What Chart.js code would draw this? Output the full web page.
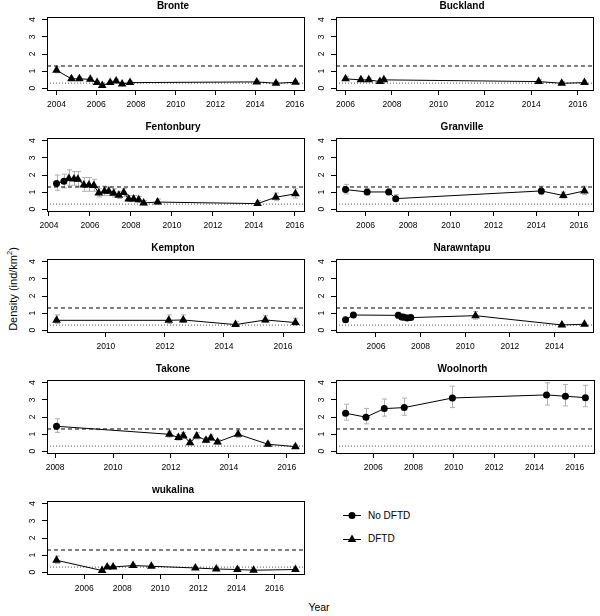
<!DOCTYPE html>
<html>
<head>
<meta charset="utf-8">
<script src="https://cdn.jsdelivr.net/npm/chart.js@4.4.1/dist/chart.umd.min.js"></script>
<style>
  body { margin: 0; background: #fff; }
  #fig { position: relative; width: 600px; height: 616px; font-family: 'Liberation Sans', Arial, sans-serif; color: #000; }
  #fig canvas { position: absolute; }
  .ylab { position: absolute; left: 12px; top: 289px; transform: translate(-50%, -50%) rotate(-90deg); font-size: 11px; white-space: nowrap; }
  .ylab sup { font-size: 7.5px; }
  .xlab { position: absolute; left: 319px; top: 607px; transform: translate(-50%, -50%); font-size: 10.5px; }
  .leg { position: absolute; left: 342px; font-size: 10px; white-space: nowrap; }
  .leg svg { vertical-align: middle; margin-right: 6px; }
  .leg span { vertical-align: middle; }
</style>
</head>
<body>
<div id="fig">
  <div class="ylab">Density (ind/km<sup>2</sup>)</div>
  <div class="xlab">Year</div>
  <div class="leg" style="top:509px"><svg width="20" height="12"><line x1="1" y1="6.5" x2="19" y2="6.5" stroke="#000" stroke-width="1"/><circle cx="10" cy="6.5" r="3.5" fill="#000"/></svg><span>No DFTD</span></div>
  <div class="leg" style="top:532px"><svg width="20" height="12"><line x1="1" y1="7.5" x2="19" y2="7.5" stroke="#000" stroke-width="1"/><path d="M10 2.5 L14.3 10 L5.7 10 Z" fill="#000"/></svg><span>DFTD</span></div>
</div>
<script>
// reference densities (dashed / dotted) and axis ticks
const refLines = [1.3, 0.3];
const densityTicks = [0, 1, 2, 3, 4];
const yearTicks = [2004, 2006, 2008, 2010, 2012, 2014, 2016];

// per-site surveys: year, density, error bar low/high, 1 = DFTD present
const bronteYear = [2004.0, 2004.75, 2005.15, 2005.7, 2006.04, 2006.3, 2006.7, 2007.0, 2007.3, 2007.7, 2014.08, 2015.05, 2016.03];
const bronteDens = [1.05, 0.55, 0.55, 0.52, 0.33, 0.16, 0.33, 0.43, 0.25, 0.33, 0.37, 0.29, 0.35];
const bronteLo = [0.9, 0.45, 0.45, 0.42, 0.25, 0.1, 0.25, 0.33, 0.18, 0.25, 0.28, 0.22, 0.27];
const bronteHi = [1.25, 0.65, 0.65, 0.62, 0.42, 0.22, 0.42, 0.53, 0.33, 0.42, 0.47, 0.37, 0.45];
const bronteDftd = [1, 1, 1, 1, 1, 1, 1, 1, 1, 1, 1, 1, 1];

const bucklandYear = [2006.0, 2006.66, 2007.0, 2007.48, 2007.65, 2014.32, 2015.31, 2016.29];
const bucklandDens = [0.55, 0.49, 0.49, 0.39, 0.49, 0.39, 0.29, 0.33];
const bucklandLo = [0.45, 0.4, 0.4, 0.3, 0.4, 0.3, 0.2, 0.25];
const bucklandHi = [0.68, 0.6, 0.6, 0.5, 0.6, 0.5, 0.4, 0.43];
const bucklandDftd = [1, 1, 1, 1, 1, 1, 1, 1];

const fentonburyYear = [2004.37, 2004.73, 2004.97, 2005.22, 2005.41, 2005.7, 2005.95, 2006.19, 2006.43, 2006.71, 2006.92,
  2007.16, 2007.41, 2007.65, 2007.89, 2008.13, 2008.38, 2008.62, 2009.3, 2014.18, 2015.07, 2016.03];
const fentonburyDens = [1.5, 1.64, 1.8, 1.77, 1.75, 1.42, 1.42, 1.38, 0.95, 1.05, 1.05,
  0.93, 0.82, 0.98, 0.6, 0.6, 0.55, 0.37, 0.42, 0.33, 0.7, 0.9];
const fentonburyLo = [1.1, 1.25, 1.4, 1.4, 1.35, 1.05, 1.05, 1.05, 0.72, 0.8, 0.8,
  0.72, 0.62, 0.75, 0.45, 0.45, 0.4, 0.25, 0.3, 0.22, 0.5, 0.65];
const fentonburyHi = [2.0, 2.05, 2.3, 2.2, 2.2, 1.85, 1.85, 1.75, 1.2, 1.35, 1.3,
  1.2, 1.05, 1.2, 0.8, 0.8, 0.75, 0.5, 0.6, 0.5, 0.95, 1.2];
const fentonburyDftd = [0, 0, 1, 1, 1, 1, 1, 1, 1, 1, 1, 1, 1, 1, 1, 1, 1, 1, 1, 1, 1, 1];

const granvilleYear = [2005.07, 2006.08, 2007.09, 2007.42, 2014.24, 2015.27, 2016.26];
const granvilleDens = [1.15, 1.01, 1.01, 0.62, 1.07, 0.8, 1.07];
const granvilleLo = [0.9, 0.85, 0.85, 0.5, 0.85, 0.65, 0.85];
const granvilleHi = [1.45, 1.2, 1.2, 0.85, 1.35, 1.0, 1.35];
const granvilleDftd = [0, 0, 0, 0, 0, 1, 1];

const kemptonYear = [2008.33, 2012.13, 2012.62, 2014.39, 2015.4, 2016.42];
const kemptonDens = [0.58, 0.58, 0.6, 0.33, 0.6, 0.45];
const kemptonLo = [0.4, 0.4, 0.45, 0.22, 0.45, 0.3];
const kemptonHi = [0.9, 0.9, 0.9, 0.5, 0.85, 0.7];
const kemptonDftd = [1, 1, 1, 1, 1, 1];

const narawntapuYear = [2004.64, 2004.99, 2007.0, 2007.15, 2007.25, 2007.4, 2007.56, 2010.46, 2014.33, 2015.34];
const narawntapuDens = [0.62, 0.89, 0.87, 0.78, 0.76, 0.72, 0.74, 0.85, 0.31, 0.35];
const narawntapuLo = [0.55, 0.8, 0.7, 0.65, 0.63, 0.6, 0.62, 0.65, 0.25, 0.28];
const narawntapuHi = [0.7, 1.0, 1.05, 0.95, 0.92, 0.88, 0.88, 1.1, 0.38, 0.42];
const narawntapuDftd = [0, 0, 0, 0, 0, 0, 0, 1, 1, 1];

const takoneYear = [2008.05, 2011.95, 2012.26, 2012.43, 2012.66, 2012.89, 2013.21, 2013.38, 2013.61, 2014.32, 2015.35, 2016.3];
const takoneDens = [1.46, 0.99, 0.8, 0.91, 0.5, 0.89, 0.64, 0.78, 0.54, 0.99, 0.41, 0.27];
const takoneLo = [1.1, 0.82, 0.65, 0.75, 0.38, 0.72, 0.5, 0.62, 0.42, 0.8, 0.3, 0.18];
const takoneHi = [1.9, 1.18, 0.98, 1.1, 0.65, 1.08, 0.8, 0.95, 0.68, 1.2, 0.55, 0.38];
const takoneDftd = [0, 1, 1, 1, 1, 1, 1, 1, 1, 1, 1, 1];

const woolnorthYear = [2004.63, 2005.64, 2006.55, 2007.54, 2009.93, 2014.6, 2015.54, 2016.53];
const woolnorthDens = [2.22, 1.99, 2.49, 2.55, 3.11, 3.29, 3.21, 3.13];
const woolnorthLo = [1.82, 1.6, 2.05, 2.1, 2.55, 2.7, 2.65, 2.6];
const woolnorthHi = [2.75, 2.5, 3.05, 3.1, 3.8, 4.0, 3.9, 3.85];
const woolnorthDftd = [0, 0, 0, 0, 0, 0, 0, 0];

const wukalinaYear = [2004.55, 2006.94, 2007.21, 2007.52, 2008.57, 2009.53, 2011.84, 2012.94, 2014.05, 2014.9, 2017.1];
const wukalinaDens = [0.7, 0.1, 0.31, 0.31, 0.39, 0.35, 0.25, 0.19, 0.16, 0.12, 0.16];
const wukalinaLo = [0.5, 0.05, 0.22, 0.22, 0.3, 0.27, 0.18, 0.12, 0.1, 0.07, 0.1];
const wukalinaHi = [0.95, 0.16, 0.4, 0.4, 0.48, 0.43, 0.32, 0.26, 0.22, 0.17, 0.22];
const wukalinaDftd = [1, 1, 1, 1, 1, 1, 1, 1, 1, 1, 1];

const sites = [
  { name: 'Bronte', year: bronteYear, dens: bronteDens, lo: bronteLo, hi: bronteHi, dftd: bronteDftd },
  { name: 'Buckland', year: bucklandYear, dens: bucklandDens, lo: bucklandLo, hi: bucklandHi, dftd: bucklandDftd },
  { name: 'Fentonbury', year: fentonburyYear, dens: fentonburyDens, lo: fentonburyLo, hi: fentonburyHi, dftd: fentonburyDftd },
  { name: 'Granville', year: granvilleYear, dens: granvilleDens, lo: granvilleLo, hi: granvilleHi, dftd: granvilleDftd },
  { name: 'Kempton', year: kemptonYear, dens: kemptonDens, lo: kemptonLo, hi: kemptonHi, dftd: kemptonDftd },
  { name: 'Narawntapu', year: narawntapuYear, dens: narawntapuDens, lo: narawntapuLo, hi: narawntapuHi, dftd: narawntapuDftd },
  { name: 'Takone', year: takoneYear, dens: takoneDens, lo: takoneLo, hi: takoneHi, dftd: takoneDftd },
  { name: 'Woolnorth', year: woolnorthYear, dens: woolnorthDens, lo: woolnorthLo, hi: woolnorthHi, dftd: woolnorthDftd },
  { name: 'wukalina', year: wukalinaYear, dens: wukalinaDens, lo: wukalinaLo, hi: wukalinaHi, dftd: wukalinaDftd },
];

// panel grid (plot box positions in page pixels)
const colLeft = [47, 336];
const rowTop = [17, 138, 259, 380, 501];
const boxW = 259, boxH = 74;
const padL = 47, padT = 17, padR = 4, padB = 24;
const tickFont = "8.5px 'Liberation Sans', Arial, sans-serif";

Chart.defaults.font.family = "'Liberation Sans', Arial, sans-serif";
Chart.defaults.color = '#000';

// R-style axis range: data extent widened by 4%
function xRange(years) {
  const lo = Math.min(...years), hi = Math.max(...years);
  const d = (hi - lo) * 0.04;
  return [lo - d, hi + d];
}

function makePanel(site, idx) {
  const fig = document.getElementById('fig');
  const canvas = document.createElement('canvas');
  canvas.width = padL + boxW + padR;
  canvas.height = padT + boxH + padB;
  canvas.style.left = (colLeft[idx % 2] - padL) + 'px';
  canvas.style.top = (rowTop[Math.floor(idx / 2)] - padT) + 'px';
  fig.appendChild(canvas);

  const [xmin, xmax] = xRange(site.year);

  // gray error bars under the markers
  const errorBars = {
    id: 'errorBars',
    beforeDatasetsDraw(chart) {
      const { ctx, scales: { x, y } } = chart;
      ctx.save();
      ctx.strokeStyle = '#b0b0b0';
      ctx.lineWidth = 1;
      site.year.forEach((yr, i) => {
        const px = Math.round(x.getPixelForValue(yr)) + 0.5;
        const top = y.getPixelForValue(site.hi[i]);
        const bot = y.getPixelForValue(site.lo[i]);
        ctx.beginPath();
        ctx.moveTo(px, top); ctx.lineTo(px, bot);
        ctx.moveTo(px - 2.5, top); ctx.lineTo(px + 2.5, top);
        ctx.moveTo(px - 2.5, bot); ctx.lineTo(px + 2.5, bot);
        ctx.stroke();
      });
      ctx.restore();
    }
  };

  // box round the plot, rotated y tick labels (R style) and the panel title
  const frame = {
    id: 'frame',
    afterDraw(chart) {
      const { ctx, chartArea: a, scales: { y } } = chart;
      ctx.save();
      ctx.strokeStyle = '#000';
      ctx.lineWidth = 1;
      ctx.strokeRect(a.left + 0.5, a.top + 0.5, a.right - a.left - 1, a.bottom - a.top - 1);
      ctx.fillStyle = '#000';
      ctx.font = tickFont;
      ctx.textAlign = 'center';
      ctx.textBaseline = 'middle';
      y.ticks.forEach(t => {
        ctx.save();
        ctx.translate(a.left - 14.5, y.getPixelForValue(t.value));
        ctx.rotate(-Math.PI / 2);
        ctx.fillText(String(t.value), 0, 0);
        ctx.restore();
      });
      ctx.font = "bold 10px 'Liberation Sans', Arial, sans-serif";
      ctx.fillText(site.name, (a.left + a.right) / 2 - 3, a.top - 10.5);
      ctx.restore();
    }
  };

  const points = site.year.map((yr, i) => ({ x: yr, y: site.dens[i] }));

  new Chart(canvas, {
    type: 'scatter',
    data: {
      datasets: [
        {
          data: points,
          showLine: true,
          borderColor: '#000',
          borderWidth: 1,
          backgroundColor: '#000',
          pointStyle: site.dftd.map(d => d ? 'triangle' : 'circle'),
          pointRadius: site.dftd.map(d => d ? 5 : 3.5),
          pointBorderWidth: 0,
        },
        {
          data: [{ x: xmin, y: refLines[0] }, { x: xmax, y: refLines[0] }],
          showLine: true, borderColor: '#000', borderWidth: 1, borderDash: [4, 3], pointRadius: 0,
        },
        {
          data: [{ x: xmin, y: refLines[1] }, { x: xmax, y: refLines[1] }],
          showLine: true, borderColor: '#555', borderWidth: 1, borderDash: [1, 2], pointRadius: 0,
        },
      ]
    },
    options: {
      responsive: false,
      animation: false,
      devicePixelRatio: 1,
      layout: { padding: { top: padT, right: padR, left: 0, bottom: 0 } },
      plugins: { legend: { display: false }, tooltip: { enabled: false } },
      scales: {
        x: {
          type: 'linear',
          min: xmin,
          max: xmax,
          afterBuildTicks: s => { s.ticks = yearTicks.filter(v => v >= xmin && v <= xmax).map(v => ({ value: v })); },
          afterFit: s => { s.height = padB; },
          grid: { drawOnChartArea: false, drawTicks: true, tickLength: 4, color: '#000' },
          border: { display: false },
          ticks: { font: { size: 8.5 }, color: '#000', padding: 5, maxRotation: 0, autoSkip: false, callback: v => String(v) },
        },
        y: {
          min: -0.16,
          max: 4.16,
          afterBuildTicks: s => { s.ticks = densityTicks.map(v => ({ value: v })); },
          afterFit: s => { s.width = padL; },
          grid: { drawOnChartArea: false, drawTicks: true, tickLength: 5, color: '#000' },
          border: { display: false },
          ticks: { display: false },
        }
      }
    },
    plugins: [errorBars, frame]
  });
}

sites.forEach(makePanel);
</script>
</body>
</html>
